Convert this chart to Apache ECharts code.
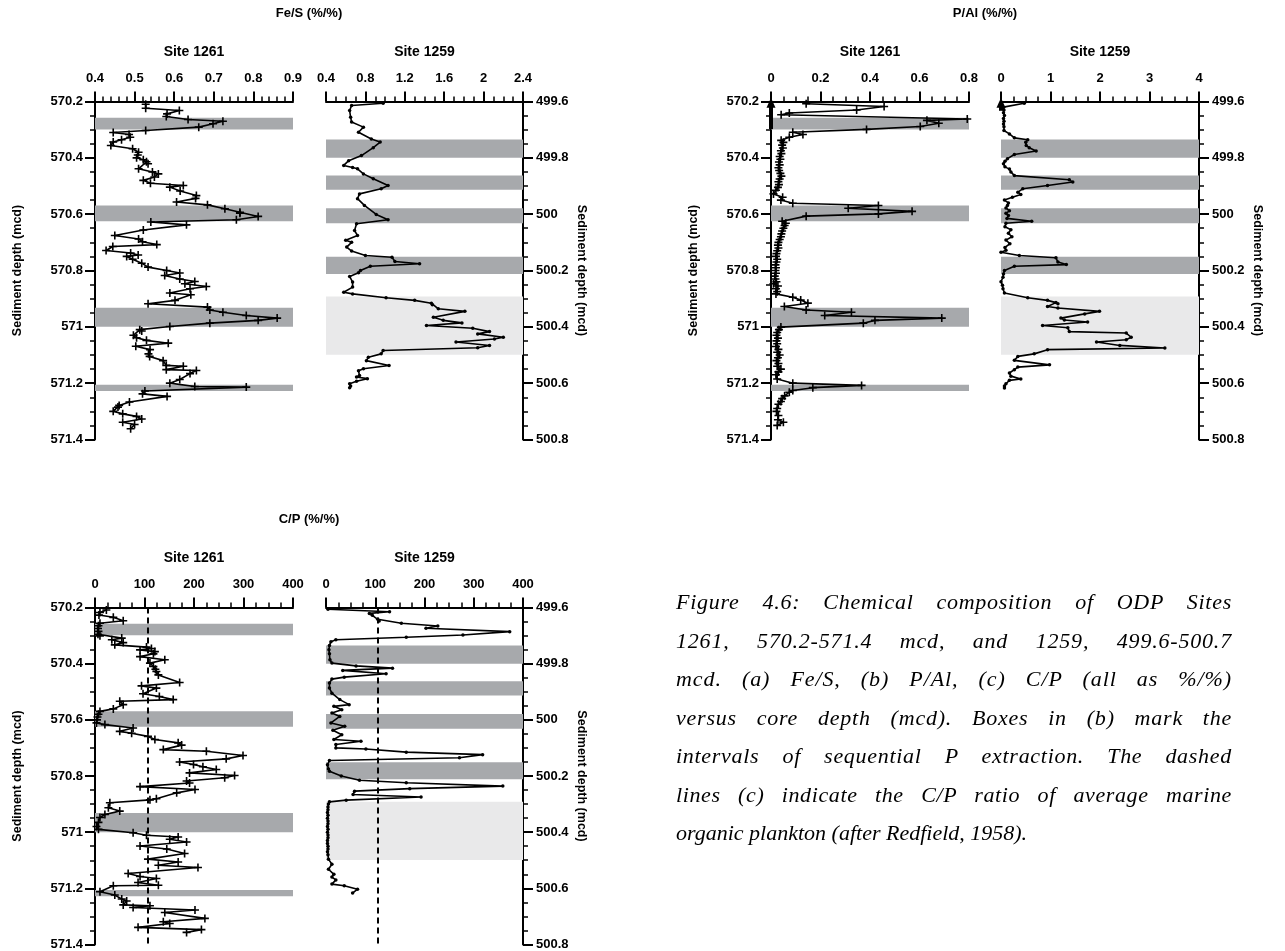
<!DOCTYPE html>
<html>
<head>
<meta charset="utf-8">
<script src="https://cdn.jsdelivr.net/npm/echarts@6/dist/echarts.min.js"></script>
<style>
  html, body { margin: 0; padding: 0; background: #fff; }
  #chart { position: absolute; left: 0; top: 0; width: 1285px; height: 951px; }
  #caption {
    position: absolute; left: 676px; top: 583px; width: 556px;
    font-family: "Liberation Serif", "Times New Roman", serif;
    font-style: italic; font-size: 22px; line-height: 38.5px; color: #000;
  }
  #caption div { text-align: justify; text-align-last: justify; white-space: nowrap; }
  #caption div.last { text-align-last: left; }
</style>
</head>
<body>
<div id="chart"></div>
<div id="caption"></div>
<script>
// ---- Fe/S, Site 1261 (depth in mcd, ratio %/%) ----
const feS1261Depth = [570.210,570.224,570.232,570.244,570.253,570.264,570.270,570.279,570.291,570.303,570.310,570.317,570.327,570.336,570.344,570.356,570.368,570.380,570.390,570.400,570.407,570.414,570.421,570.439,570.450,570.457,570.468,570.480,570.490,570.498,570.504,570.518,570.534,570.544,570.557,570.567,570.581,570.593,570.597,570.608,570.620,570.628,570.638,570.656,570.676,570.688,570.698,570.708,570.715,570.729,570.738,570.745,570.750,570.760,570.774,570.788,570.800,570.809,570.818,570.830,570.839,570.847,570.857,570.865,570.880,570.886,570.906,570.918,570.930,570.940,570.948,570.960,570.969,570.977,570.987,570.999,571.010,571.015,571.030,571.039,571.048,571.058,571.069,571.081,571.096,571.105,571.120,571.137,571.140,571.152,571.155,571.166,571.187,571.200,571.212,571.214,571.228,571.238,571.247,571.267,571.279,571.285,571.300,571.309,571.318,571.327,571.339,571.347,571.362];
const feS1261 = [0.528,0.528,0.613,0.582,0.580,0.635,0.723,0.698,0.662,0.528,0.446,0.486,0.489,0.467,0.446,0.440,0.495,0.510,0.508,0.505,0.522,0.530,0.534,0.510,0.545,0.560,0.550,0.522,0.540,0.623,0.589,0.615,0.656,0.654,0.606,0.684,0.728,0.766,0.766,0.812,0.757,0.541,0.631,0.522,0.450,0.510,0.520,0.556,0.445,0.428,0.490,0.509,0.480,0.495,0.518,0.534,0.581,0.614,0.576,0.614,0.652,0.627,0.681,0.640,0.589,0.642,0.602,0.534,0.684,0.690,0.723,0.782,0.860,0.812,0.690,0.589,0.513,0.518,0.497,0.505,0.530,0.585,0.503,0.539,0.535,0.538,0.572,0.580,0.623,0.580,0.656,0.640,0.614,0.589,0.652,0.782,0.526,0.520,0.582,0.487,0.461,0.458,0.446,0.470,0.505,0.518,0.470,0.500,0.490];

// ---- Fe/S, Site 1259 ----
const feS1259Depth = [499.606,499.614,499.632,499.656,499.673,499.691,499.709,499.733,499.744,499.764,499.792,499.810,499.827,499.834,499.839,499.857,499.874,499.898,499.910,499.928,499.945,499.969,500.001,500.020,500.034,500.058,500.076,500.093,500.100,500.117,500.131,500.147,500.153,500.168,500.176,500.185,500.200,500.208,500.221,500.241,500.259,500.277,500.283,500.297,500.306,500.316,500.322,500.336,500.345,500.366,500.377,500.386,500.395,500.405,500.417,500.425,500.437,500.443,500.454,500.466,500.474,500.484,500.496,500.508,500.520,500.537,500.549,500.556,500.573,500.578,500.584,500.593,500.602,500.610,500.616];
const feS1259 = [0.98,0.66,0.64,0.65,0.66,0.78,0.73,0.86,0.95,0.88,0.76,0.63,0.58,0.67,0.72,0.78,0.88,1.03,0.96,0.74,0.72,0.79,0.91,1.03,0.71,0.69,0.72,0.60,0.66,0.61,0.66,0.80,1.07,1.10,1.35,0.85,0.75,0.73,0.64,0.67,0.67,0.58,0.67,1.01,1.30,1.47,1.48,1.54,1.81,1.49,1.59,1.78,1.42,1.89,2.06,1.94,2.20,2.11,1.72,2.06,1.94,0.98,0.96,0.83,0.81,1.04,0.78,0.73,0.74,0.71,0.82,0.71,0.64,0.65,0.64];

// ---- P/Al, Site 1261 ----
const pAl1261Depth = [570.208,570.218,570.230,570.241,570.247,570.262,570.267,570.277,570.289,570.299,570.309,570.317,570.327,570.338,570.345,570.355,570.365,570.375,570.385,570.395,570.405,570.415,570.425,570.435,570.445,570.455,570.465,570.475,570.485,570.495,570.505,570.515,570.528,570.540,570.550,570.561,570.569,570.579,570.590,570.599,570.607,570.625,570.632,570.640,570.650,570.660,570.670,570.680,570.690,570.700,570.710,570.720,570.730,570.740,570.750,570.760,570.770,570.780,570.790,570.800,570.810,570.820,570.830,570.840,570.847,570.855,570.865,570.875,570.883,570.895,570.905,570.916,570.928,570.940,570.948,570.960,570.969,570.977,570.987,571.001,571.010,571.020,571.030,571.040,571.050,571.060,571.070,571.080,571.090,571.100,571.110,571.120,571.130,571.140,571.150,571.160,571.170,571.185,571.200,571.208,571.216,571.226,571.232,571.245,571.255,571.265,571.275,571.290,571.300,571.315,571.330,571.339,571.350];
const pAl1261 = [0.142,0.457,0.346,0.074,0.041,0.793,0.630,0.678,0.603,0.386,0.088,0.129,0.074,0.041,0.050,0.045,0.048,0.040,0.042,0.035,0.038,0.032,0.035,0.030,0.033,0.038,0.042,0.035,0.030,0.032,0.028,0.020,0.010,0.047,0.040,0.088,0.434,0.312,0.570,0.434,0.142,0.045,0.060,0.055,0.050,0.045,0.042,0.040,0.035,0.030,0.028,0.030,0.025,0.022,0.020,0.025,0.022,0.018,0.020,0.018,0.020,0.015,0.018,0.022,0.010,0.028,0.020,0.025,0.020,0.088,0.120,0.149,0.054,0.142,0.325,0.217,0.690,0.420,0.373,0.040,0.032,0.025,0.022,0.028,0.022,0.025,0.020,0.030,0.025,0.035,0.028,0.022,0.030,0.025,0.040,0.030,0.020,0.025,0.088,0.366,0.169,0.088,0.074,0.055,0.045,0.040,0.030,0.025,0.022,0.030,0.028,0.050,0.025];

// ---- P/Al, Site 1259 ----
const pAl1259Depth = [499.606,499.620,499.630,499.640,499.650,499.660,499.670,499.680,499.690,499.703,499.715,499.729,499.736,499.745,499.756,499.764,499.776,499.788,499.803,499.812,499.821,499.832,499.840,499.850,499.863,499.878,499.886,499.898,499.910,499.922,499.930,499.940,499.950,499.960,499.969,499.978,499.988,499.997,500.005,500.015,500.025,500.032,500.045,500.055,500.068,500.080,500.092,500.105,500.118,500.128,500.135,500.147,500.155,500.170,500.179,500.185,500.200,500.212,500.224,500.240,500.252,500.265,500.280,500.297,500.306,500.314,500.318,500.328,500.333,500.345,500.354,500.369,500.376,500.383,500.395,500.403,500.417,500.422,500.437,500.446,500.454,500.466,500.475,500.481,500.496,500.505,500.519,500.535,500.543,500.552,500.564,500.575,500.585,500.590,500.602,500.610,500.617];
const pAl1259 = [0.47,0.05,0.06,0.05,0.07,0.05,0.06,0.05,0.06,0.06,0.17,0.27,0.54,0.50,0.51,0.57,0.71,0.27,0.13,0.08,0.05,0.08,0.17,0.20,0.27,1.38,1.45,0.94,0.44,0.34,0.40,0.23,0.07,0.15,0.13,0.10,0.17,0.10,0.15,0.12,0.62,0.10,0.08,0.20,0.15,0.22,0.10,0.18,0.08,0.10,0.00,0.37,1.11,1.15,1.32,0.27,0.07,0.05,0.04,0.00,0.03,0.04,0.07,0.54,0.94,1.11,1.15,0.94,1.15,1.99,1.69,1.21,1.28,1.75,0.84,1.35,1.38,2.53,2.63,2.53,1.93,2.40,3.31,0.94,0.67,0.34,0.27,0.98,0.34,0.27,0.17,0.20,0.40,0.17,0.10,0.07,0.07];

// ---- C/P, Site 1261 ----
const cP1261Depth = [570.209,570.218,570.227,570.235,570.247,570.256,570.265,570.275,570.285,570.295,570.301,570.309,570.315,570.325,570.333,570.341,570.346,570.351,570.357,570.365,570.375,570.386,570.398,570.410,570.420,570.428,570.440,570.467,570.479,570.487,570.507,570.517,570.528,570.534,570.546,570.561,570.570,570.580,570.590,570.600,570.611,570.617,570.629,570.641,570.648,570.659,570.670,570.682,570.690,570.706,570.712,570.727,570.739,570.750,570.759,570.767,570.777,570.789,570.798,570.806,570.818,570.825,570.838,570.848,570.860,570.881,570.885,570.895,570.913,570.925,570.937,570.948,570.965,570.980,570.990,571.002,571.011,571.017,571.025,571.035,571.049,571.060,571.076,571.096,571.106,571.118,571.126,571.147,571.158,571.165,571.179,571.189,571.191,571.212,571.224,571.238,571.245,571.259,571.262,571.268,571.277,571.286,571.307,571.319,571.325,571.339,571.347,571.357];
const cP1261 = [23,10,8,37,57,10,7,6,7,6,10,54,34,57,40,104,114,91,121,118,91,141,111,118,122,124,128,171,94,124,97,130,158,50,57,37,10,7,5,4,3,20,77,50,74,107,121,168,175,138,225,299,265,171,199,218,245,191,282,262,185,191,91,202,165,124,111,30,27,50,20,10,7,3,7,77,104,168,151,185,91,145,181,107,168,128,208,67,91,124,87,128,37,10,40,54,64,57,111,77,202,141,222,138,151,87,215,185];

// ---- C/P, Site 1259 ----
const cP1259Depth = [499.606,499.615,499.621,499.628,499.642,499.648,499.656,499.666,499.674,499.686,499.698,499.706,499.715,499.722,499.735,499.750,499.765,499.786,499.798,499.808,499.816,499.824,499.836,499.848,499.855,499.869,499.887,499.905,499.928,499.946,499.952,499.964,499.976,499.988,500.011,500.023,500.037,500.053,500.070,500.076,500.088,500.100,500.104,500.115,500.124,500.135,500.145,500.160,500.175,500.183,500.200,500.215,500.224,500.236,500.245,500.254,500.266,500.275,500.286,500.292,500.300,500.310,500.320,500.330,500.340,500.350,500.360,500.370,500.380,500.390,500.400,500.410,500.420,500.430,500.440,500.450,500.460,500.470,500.480,500.496,500.514,500.532,500.550,500.560,500.570,500.585,500.591,500.603,500.617];
const cP1259 = [4,129,88,94,105,108,153,227,203,373,278,163,20,10,7,6,7,8,12,61,135,34,122,37,12,7,7,12,28,47,16,32,12,28,10,38,14,32,16,71,20,20,81,163,318,271,7,3,5,7,31,68,163,359,170,58,55,193,41,7,5,4,4,3,4,3,4,4,3,4,3,4,4,3,3,4,4,3,4,5,12,5,16,12,20,12,37,64,54];

// ---- shaded depth intervals ----
const bands1261 = [[570.258, 570.299], [570.569, 570.625], [570.932, 571.000], [571.206, 571.228]];
const bands1259 = [[499.735, 499.800], [499.863, 499.913], [499.979, 500.032], [500.151, 500.212]];
const lightBands1259 = [[500.292, 500.499]];

// Redfield C/P ratio (dashed reference line)
const redfieldCP = 106;

// arrows at zero in the P/Al panels: [from depth, to depth]
const arrowPAl1261 = [570.298, 570.204];
const arrowPAl1259 = [499.633, 499.604];

// axis ranges: [min, max, interval, minor subdivisions]
const xFeS1261 = [0.4, 0.9, 0.1, 5];
const xFeS1259 = [0.4, 2.4, 0.4, 4];
const xPAl1261 = [0, 0.8, 0.2, 4];
const xPAl1259 = [0, 4, 1, 4];
const xCP = [0, 400, 100, 4];
const depth1261 = [570.2, 571.4];
const depth1259 = [499.6, 500.8];

const siteNames = ['Site 1261', 'Site 1259'];
const panelTitles = ['Fe/S (%/%)', 'P/Al (%/%)', 'C/P (%/%)'];
const depthTitle = 'Sediment depth (mcd)';

const captionLines = [
  'Figure 4.6: Chemical composition of ODP Sites',
  '1261, 570.2-571.4 mcd, and 1259, 499.6-500.7',
  'mcd. (a) Fe/S, (b) P/Al, (c) C/P (all as %/%)',
  'versus core depth (mcd). Boxes in (b) mark the',
  'intervals of sequential P extraction. The dashed',
  'lines (c) indicate the C/P ratio of average marine',
  'organic plankton (after Redfield, 1958).'
];

// ---------------------------------------------------------------
const FONT = '"Liberation Sans", Arial, Helvetica, sans-serif';
const PLUS = 'path://M4,0H6V4H10V6H6V10H4V6H0V4H4Z';
const BAND_DARK = '#a7a9ac';
const BAND_LIGHT = '#e9e9ea';

const zip = (d, v) => d.map((y, i) => [v[i], y]);

// grid boxes: [left, top, width]
const gridBoxes = [
  [95, 101.5, 198], [326, 101.5, 197],
  [771, 101.5, 198], [1001, 101.5, 198],
  [95, 607.5, 198], [326, 607.5, 197]
];

function xAxisFor(gi, r, site) {
  return {
    gridIndex: gi, type: 'value', position: 'top',
    min: r[0], max: r[1], interval: r[2],
    name: site, nameLocation: 'middle', nameGap: 42,
    nameTextStyle: { fontFamily: FONT, fontWeight: 'bold', fontSize: 14, color: '#000' },
    axisLine: { show: true, onZero: false, lineStyle: { color: '#000', width: 2 } },
    axisTick: { show: true, length: 10, lineStyle: { color: '#000', width: 2 } },
    minorTick: { show: true, splitNumber: r[3], length: 5, lineStyle: { color: '#000', width: 1.5 } },
    axisLabel: { fontFamily: FONT, fontWeight: 'bold', fontSize: 13, color: '#000', margin: 17,
                 showMinLabel: true, showMaxLabel: true },
    splitLine: { show: false }, minorSplitLine: { show: false }
  };
}

function yAxisFor(gi, r, side) {
  const left = side === 'left';
  return {
    gridIndex: gi, type: 'value', position: side, inverse: true,
    min: r[0], max: r[1], interval: 0.2,
    name: depthTitle, nameLocation: 'middle', nameGap: left ? 71 : 52,
    nameRotate: left ? 90 : -90,
    nameTextStyle: { fontFamily: FONT, fontWeight: 'bold', fontSize: 12.5, color: '#000' },
    axisLine: { show: true, onZero: false, lineStyle: { color: '#000', width: 2 } },
    axisTick: { show: true, length: 10, lineStyle: { color: '#000', width: 2 } },
    minorTick: { show: true, splitNumber: 4, length: 5, lineStyle: { color: '#000', width: 1.5 } },
    axisLabel: { fontFamily: FONT, fontWeight: 'bold', fontSize: 13, color: '#000', margin: left ? 12 : 13,
                 showMinLabel: true, showMaxLabel: true },
    splitLine: { show: false }, minorSplitLine: { show: false }
  };
}

function bandSeries(gi, xr, yr, dark, light) {
  const data = dark.map(b => [{ yAxis: b[0], itemStyle: { color: BAND_DARK } }, { yAxis: b[1] }])
    .concat((light || []).map(b => [{ yAxis: b[0], itemStyle: { color: BAND_LIGHT } }, { yAxis: b[1] }]));
  return {
    type: 'line', xAxisIndex: gi, yAxisIndex: gi, z: 1, silent: true,
    data: [[xr[0], yr[0]]], symbol: 'none', lineStyle: { opacity: 0 },
    markArea: { silent: true, z: 1, data: data }
  };
}

function dataSeries(gi, depth, vals, site1261, extra) {
  return Object.assign({
    type: 'line', xAxisIndex: gi, yAxisIndex: gi, z: 3,
    data: zip(depth, vals),
    symbol: site1261 ? PLUS : 'circle',
    symbolSize: site1261 ? 8 : 3.5,
    showAllSymbol: true,
    lineStyle: { color: '#000', width: 1.6 },
    itemStyle: { color: '#000' }
  }, extra || {});
}

const redfieldLine = {
  silent: true, symbol: ['none', 'none'], label: { show: false },
  lineStyle: { color: '#000', width: 2, type: [6, 4] },
  data: [{ xAxis: redfieldCP }]
};

function arrowLine(a) {
  return {
    silent: true, symbol: ['none', 'triangle'], symbolSize: [9, 10], label: { show: false },
    lineStyle: { color: '#000', width: 4, type: 'solid' },
    data: [[{ coord: [0, a[0]] }, { coord: [0, a[1]] }]]
  };
}

const option = {
  animation: false,
  backgroundColor: '#fff',
  textStyle: { fontFamily: FONT },
  grid: gridBoxes.map(b => ({ left: b[0], top: b[1], width: b[2], height: 338 })),
  xAxis: [
    xAxisFor(0, xFeS1261, siteNames[0]), xAxisFor(1, xFeS1259, siteNames[1]),
    xAxisFor(2, xPAl1261, siteNames[0]), xAxisFor(3, xPAl1259, siteNames[1]),
    xAxisFor(4, xCP, siteNames[0]), xAxisFor(5, xCP, siteNames[1])
  ],
  yAxis: [
    yAxisFor(0, depth1261, 'left'), yAxisFor(1, depth1259, 'right'),
    yAxisFor(2, depth1261, 'left'), yAxisFor(3, depth1259, 'right'),
    yAxisFor(4, depth1261, 'left'), yAxisFor(5, depth1259, 'right')
  ],
  graphic: [
    { type: 'text', x: 309, y: 13, style: { text: panelTitles[0], fill: '#000', font: 'bold 13px ' + FONT, align: 'center', verticalAlign: 'middle' } },
    { type: 'text', x: 985, y: 13, style: { text: panelTitles[1], fill: '#000', font: 'bold 13px ' + FONT, align: 'center', verticalAlign: 'middle' } },
    { type: 'text', x: 309, y: 519, style: { text: panelTitles[2], fill: '#000', font: 'bold 13px ' + FONT, align: 'center', verticalAlign: 'middle' } }
  ],
  series: [
    bandSeries(0, xFeS1261, depth1261, bands1261),
    bandSeries(1, xFeS1259, depth1259, bands1259, lightBands1259),
    bandSeries(2, xPAl1261, depth1261, bands1261),
    bandSeries(3, xPAl1259, depth1259, bands1259, lightBands1259),
    bandSeries(4, xCP, depth1261, bands1261),
    bandSeries(5, xCP, depth1259, bands1259, lightBands1259),
    dataSeries(0, feS1261Depth, feS1261, true),
    dataSeries(1, feS1259Depth, feS1259, false),
    dataSeries(2, pAl1261Depth, pAl1261, true, { markLine: arrowLine(arrowPAl1261) }),
    dataSeries(3, pAl1259Depth, pAl1259, false, { markLine: arrowLine(arrowPAl1259) }),
    dataSeries(4, cP1261Depth, cP1261, true, { markLine: redfieldLine }),
    dataSeries(5, cP1259Depth, cP1259, false, { markLine: redfieldLine })
  ]
};

const chart = echarts.init(document.getElementById('chart'), null, { renderer: 'canvas' });
chart.setOption(option);

// figure caption: each full line is justified, a quarter of the slack going
// into letter spacing and the rest into word spacing
const CAPTION_WIDTH = 556;
const cap = document.getElementById('caption');
captionLines.forEach((t, i) => {
  const d = document.createElement('div');
  const s = document.createElement('span');
  s.textContent = t;
  d.appendChild(s);
  d.className = 'last';              // measure the natural, unjustified width first
  cap.appendChild(d);
  if (i < captionLines.length - 1) {
    const w = s.getBoundingClientRect().width;
    const slack = Math.max(0, CAPTION_WIDTH - w);
    d.style.letterSpacing = (slack * 0.25 / t.length).toFixed(2) + 'px';
    d.className = '';
  }
});
</script>
</body>
</html>
